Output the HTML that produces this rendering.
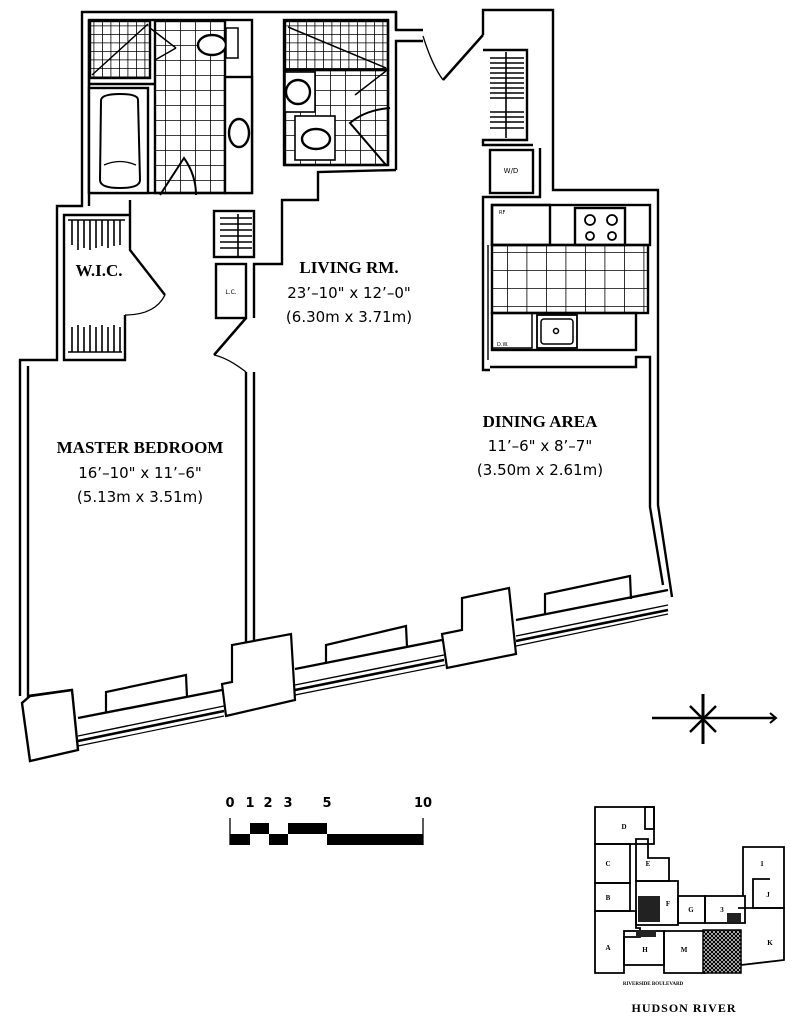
<!DOCTYPE html>
<html><head><meta charset="utf-8"><style>
html,body{margin:0;padding:0;background:#fff}
svg{display:block}
.serif{font-family:"Liberation Serif",serif;font-weight:bold}
.sans{font-family:"DejaVu Sans","Liberation Sans",sans-serif}
</style></head><body>
<svg width="802" height="1019" viewBox="0 0 802 1019" xmlns="http://www.w3.org/2000/svg">
<defs>
<pattern id="fg" width="8.5" height="8.5" patternUnits="userSpaceOnUse"><path d="M0 0H8.5M0 0V8.5" stroke="#000" stroke-width="1.6" fill="none"/></pattern>
<pattern id="mg" width="15" height="15" patternUnits="userSpaceOnUse"><path d="M0 0H15M0 0V15" stroke="#000" stroke-width="1.6" fill="none"/></pattern>
<pattern id="kg" width="19.5" height="18" patternUnits="userSpaceOnUse"><path d="M0 0H19.5M0 0V18" stroke="#000" stroke-width="1.6" fill="none"/></pattern>
<pattern id="hx" width="4" height="4" patternUnits="userSpaceOnUse"><rect width="4" height="4" fill="#fff"/><path d="M0 0L4 4M4 0L0 4" stroke="#000" stroke-width="1.2"/></pattern>
</defs>
<g fill="none" stroke="#000" stroke-width="2.4" stroke-linejoin="miter">
<polyline points="396,30 396,12 82,12 82,206 57,206 57,360 20,360 20,696"/>
<polyline points="89,20 89,206"/>
<polyline points="28,366 28,696 72,690"/>
<!-- bath1 -->
<rect x="89" y="20" width="163" height="173"/>
<rect x="90" y="21" width="60" height="57" fill="url(#fg)"/>
<line x1="92" y1="75" x2="148" y2="24" stroke-width="1.5"/>
<rect x="155" y="21" width="70" height="172" fill="url(#mg)"/>
<rect x="225" y="77" width="27" height="116" fill="#fff"/>
<ellipse cx="239" cy="133" rx="10" ry="14" stroke-width="2.4"/>
<ellipse cx="212" cy="45" rx="14" ry="10" fill="#fff"/>
<rect x="226" y="28" width="12" height="30" fill="#fff" stroke-width="1.5"/>
<rect x="89" y="88" width="59" height="105" fill="#fff"/>
<path d="M101 100 Q102 94 120 94 Q138 94 138 100 L140 180 Q140 188 120 188 Q100 188 100 180 Z" stroke-width="2"/>
<path d="M104 165 Q120 158 136 165" stroke-width="1.3"/>
<line x1="89" y1="84" x2="155" y2="84"/>
<path d="M160 195 L184 158 Q196 175 196 195" stroke-width="2"/>
<line x1="150" y1="28" x2="176" y2="48" stroke-width="1.5"/><line x1="176" y1="48" x2="155" y2="60" stroke-width="1.5"/>
<!-- bath2 -->
<rect x="284" y="20" width="104" height="145"/>
<rect x="285" y="21" width="103" height="49" fill="url(#fg)"/>
<line x1="288" y1="27" x2="386" y2="68" stroke-width="1.5"/>
<rect x="285" y="70" width="103" height="95" fill="url(#mg)"/>
<rect x="285" y="72" width="30" height="40" fill="#fff" stroke-width="1.6"/>
<circle cx="298" cy="92" r="12" stroke-width="2.4"/>
<rect x="295" y="116" width="40" height="44" fill="#fff" stroke-width="1.6"/>
<ellipse cx="316" cy="139" rx="14" ry="10" stroke-width="2.4"/>
<path d="M386 71 L355 95" stroke-width="1.5"/>
<path d="M386 165 L350 123 Q365 110 390 108" stroke-width="2"/>
<polyline points="396,12 396,30 423,30"/>
<polyline points="396,170 396,41 423,41"/>
<polyline points="396,170 318,172 318,200 282,200 282,264 254,264 254,318"/>
<path d="M483 35 L443 80" stroke-width="2.5"/>
<path d="M423 36 Q432 65 443 80" stroke-width="1.3"/>
<!-- right block -->
<polyline points="483,35 483,10 553,10 553,190 658,190 658,505 672,597"/>
<polyline points="483,50 527,50 527,140 483,140 483,145 533,145"/>
<line x1="506" y1="52" x2="506" y2="138" stroke-width="1.6"/>
<g stroke-width="1.5"><path d="M490 58H524M490 63H524M490 68H524M490 73H524M490 78H524M490 83H524M490 88H524M490 93H524M490 98H524M490 112H524M490 117H524M490 122H524M490 128H524"/></g>
<rect x="490" y="150" width="43" height="43"/>
<polyline points="540,148 540,197 483,197 483,370 490,370"/>
<line x1="488" y1="245" x2="488" y2="360" stroke-width="1.4"/>
<rect x="492" y="205" width="158" height="40"/>
<rect x="492" y="205" width="58" height="40"/>
<rect x="575" y="208" width="50" height="37"/>
<circle cx="590" cy="220" r="5" stroke-width="1.8"/><circle cx="612" cy="220" r="5" stroke-width="1.8"/>
<circle cx="590" cy="236" r="4" stroke-width="1.8"/><circle cx="612" cy="236" r="4" stroke-width="1.8"/>
<rect x="492" y="245" width="156" height="68" fill="url(#kg)"/>
<rect x="492" y="313" width="144" height="37"/>
<rect x="492" y="313" width="40" height="35" stroke-width="1.5"/>
<rect x="537" y="315" width="40" height="33" stroke-width="1.8"/>
<rect x="541" y="319" width="32" height="25" rx="3" stroke-width="1.5"/>
<circle cx="556" cy="331" r="2.5" stroke-width="1.5"/>
<polyline points="490,367 636,367 636,357 650,357 650,507 663,585"/>
<!-- WIC -->
<polyline points="130,200 130,250 165,295"/>
<path d="M165 295 Q155 315 125 315" stroke-width="1.3"/>
<polyline points="125,315 125,360 64,360 64,215 130,215"/>
<line x1="68" y1="220" x2="125" y2="220" stroke-width="1.5"/>
<line x1="68" y1="352" x2="122" y2="352" stroke-width="1.5"/>
<g stroke-width="1.6"><path d="M72 220V245M78 220V250M84 220V248M90 220V250M96 220V248M102 220V246M108 220V248M114 220V246M120 220V245"/>
<path d="M72 327V352M78 325V352M84 327V352M90 325V352M96 327V352M102 325V352M108 327V352M114 325V352M120 327V352"/></g>
<rect x="214" y="211" width="40" height="46" />
<g stroke-width="1.6"><path d="M220 218H252M220 224H252M220 230H252M220 236H252M220 242H252M220 248H252"/><path d="M238 214V256"/></g>
<rect x="216" y="264" width="30" height="54"/>
<path d="M246 318 L214 355" stroke-width="2.5"/>
<path d="M214 355 Q228 358 246 372" stroke-width="1.3"/>
<polyline points="246,372 246,645"/>
<polyline points="254,372 254,640"/>
<!-- bottom band -->
<polygon points="22,703 30,761 78,750 72,690 30,696" fill="#fff"/>
<polygon points="232,645 232,682 222,684 226,716 295,700 291,634" fill="#fff" stroke-width="2.2"/>
<polygon points="462,598 462,630 442,634 447,668 516,654 509,588" fill="#fff" stroke-width="2.2"/>
<polyline points="78,718 222,690"/>
<polyline points="78,736 224,706" stroke-width="1.4"/><polyline points="78,741 224,711" stroke-width="2.6"/><polyline points="78,746 224,716" stroke-width="1.2"/>
<polyline points="295,669 442,640"/>
<polyline points="295,685 444,655" stroke-width="1.4"/><polyline points="295,690 444,660" stroke-width="2.6"/><polyline points="295,695 445,665" stroke-width="1.2"/>
<polyline points="516,620 668,590"/>
<polyline points="516,636 668,605" stroke-width="1.4"/><polyline points="516,641 668,610" stroke-width="2.6"/><polyline points="516,646 668,614" stroke-width="1.2"/>
<polyline points="106,712 106,692 186,675 187,697" stroke-width="2.2"/>
<polyline points="326,664 326,645 406,626 407,647" stroke-width="2.2"/>
<polyline points="545,614 545,594 630,576 631,599" stroke-width="2.2"/>
<line x1="230" y1="818" x2="230" y2="845" stroke-width="1.3"/>
<line x1="423" y1="818" x2="423" y2="845" stroke-width="1.3"/>
</g>
<g fill="#000">
<rect x="230" y="834" width="20" height="11"/><rect x="250" y="823" width="19" height="11"/><rect x="269" y="834" width="19" height="11"/><rect x="288" y="823" width="39" height="11"/><rect x="327" y="834" width="96" height="11"/>
</g>
<g class="sans" font-size="13" font-weight="bold" text-anchor="middle">
<text x="230" y="807">0</text><text x="250" y="807">1</text><text x="268" y="807">2</text><text x="288" y="807">3</text><text x="327" y="807">5</text><text x="423" y="807">10</text>
</g>
<g stroke="#000" fill="none">
<line x1="652" y1="718" x2="776" y2="718" stroke-width="2.6"/>
<line x1="703" y1="694" x2="703" y2="744" stroke-width="3"/>
<line x1="690" y1="706" x2="716" y2="732" stroke-width="2.5"/><line x1="716" y1="706" x2="690" y2="732" stroke-width="2.5"/>
<path d="M770 713 L776 718 L770 723" stroke-width="2"/>
</g>
<g fill="none" stroke="#000" stroke-width="1.8">
<rect x="595" y="807" width="59" height="37"/><rect x="645" y="807" width="9" height="22"/>
<rect x="595" y="844" width="35" height="39"/><rect x="595" y="883" width="35" height="28"/>
<polyline points="595,911 595,973 624,973 624,937 640,937 640,928 636,928 636,911 595,911"/>
<polyline points="636,844 636,839 648,839 648,858 669,858 669,881 636,881 636,844"/>
<rect x="636" y="881" width="42" height="44"/>
<rect x="678" y="896" width="27" height="27"/><rect x="705" y="896" width="40" height="27"/>
<polyline points="743,896 743,847 784,847 784,908 753,908 753,879 770,879"/>
<polyline points="738,908 784,908 784,960 741,965 738,930"/>
<rect x="624" y="931" width="40" height="34"/>
<polyline points="664,931 664,973 705,973 705,931 664,931"/>
</g>
<rect x="703" y="930" width="38" height="43" fill="url(#hx)" stroke="#000" stroke-width="1.5"/>
<rect x="638" y="896" width="22" height="26" fill="#222"/>
<rect x="636" y="930" width="20" height="7" fill="#222"/>
<rect x="727" y="913" width="14" height="9" fill="#222"/>
<g class="serif" font-size="7" text-anchor="middle">
<text x="624" y="829">D</text><text x="608" y="866">C</text><text x="608" y="900">B</text><text x="608" y="950">A</text><text x="648" y="866">E</text><text x="668" y="906">F</text><text x="691" y="912">G</text><text x="722" y="912">3</text><text x="762" y="866">1</text><text x="768" y="897">J</text><text x="770" y="945">K</text><text x="645" y="952">H</text><text x="684" y="952">M</text>
</g>
<text x="653" y="985" class="serif" font-size="5" text-anchor="middle">RIVERSIDE BOULEVARD</text>
<text x="684" y="1012" class="serif" font-size="12" text-anchor="middle" letter-spacing="1">HUDSON RIVER</text>
<text x="511" y="173" class="sans" font-size="7" text-anchor="middle">W/D</text>
<text x="231" y="294" class="sans" font-size="6" text-anchor="middle">L.C.</text>
<text x="499" y="214" class="sans" font-size="5">RF</text>
<text x="497" y="346" class="sans" font-size="5">D.W.</text>
<g text-anchor="middle">
<text x="99" y="276" class="serif" font-size="17">W.I.C.</text>
<text x="349" y="273" class="serif" font-size="17">LIVING RM.</text>
<text x="349" y="298" class="sans" font-size="15">23’–10" x 12’–0"</text>
<text x="349" y="322" class="sans" font-size="15">(6.30m x 3.71m)</text>
<text x="140" y="453" class="serif" font-size="17">MASTER BEDROOM</text>
<text x="140" y="478" class="sans" font-size="15">16’–10" x 11’–6"</text>
<text x="140" y="502" class="sans" font-size="15">(5.13m x 3.51m)</text>
<text x="540" y="427" class="serif" font-size="17">DINING AREA</text>
<text x="540" y="451" class="sans" font-size="15">11’–6" x 8’–7"</text>
<text x="540" y="475" class="sans" font-size="15">(3.50m x 2.61m)</text>
</g>
</svg>
</body></html>
